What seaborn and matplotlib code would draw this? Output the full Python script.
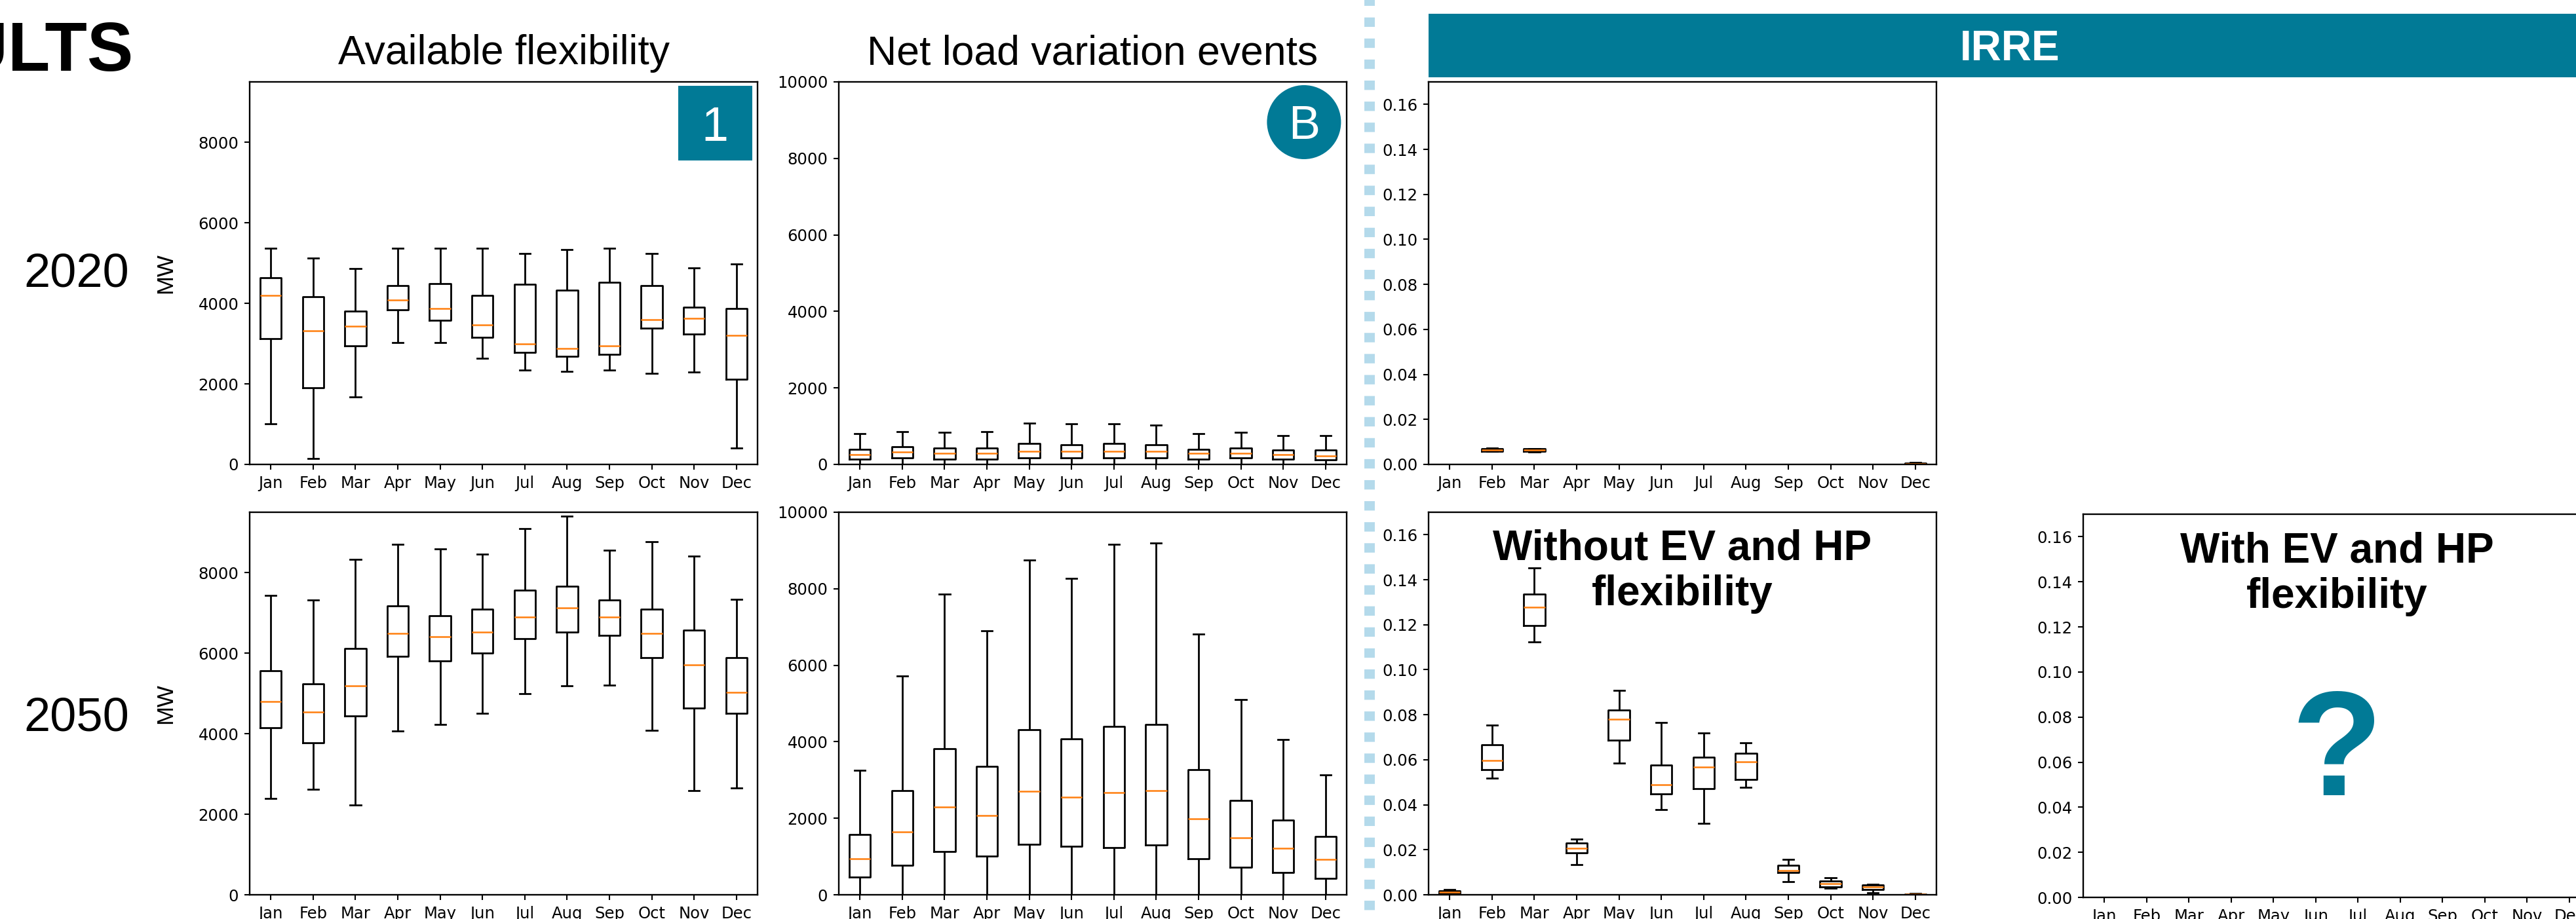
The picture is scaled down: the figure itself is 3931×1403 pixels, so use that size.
import numpy as np
import pandas as pd
import matplotlib
matplotlib.use("Agg")
import matplotlib.pyplot as plt
import seaborn as sns
from matplotlib.lines import Line2D
from matplotlib.patches import Ellipse, Rectangle

months = ["Jan", "Feb", "Mar", "Apr", "May", "Jun", "Jul", "Aug", "Sep", "Oct", "Nov", "Dec"]

# Available flexibility (MW) - whisker ends, quartiles, medians per month
flex20_min = [1009, 141, 1669, 3021, 3021, 2637, 2341, 2308, 2341, 2254, 2288, 404]
flex20_q1 = [3128, 1897, 2940, 3835, 3586, 3162, 2779, 2691, 2725, 3377, 3236, 2119]
flex20_med = [4192, 3324, 3431, 4084, 3869, 3458, 3001, 2886, 2947, 3593, 3620, 3209]
flex20_q3 = [4629, 4158, 3808, 4440, 4494, 4192, 4474, 4333, 4521, 4440, 3902, 3869]
flex20_max = [5369, 5120, 4858, 5369, 5369, 5369, 5234, 5335, 5369, 5234, 4878, 4979]

flex50_min = [2398, 2622, 2235, 4064, 4234, 4505, 4992, 5182, 5209, 4091, 2588, 2649]
flex50_q1 = [4146, 3766, 4444, 5920, 5812, 6002, 6354, 6523, 6435, 5893, 4633, 4505]
flex50_med = [4803, 4532, 5182, 6496, 6408, 6523, 6903, 7119, 6903, 6496, 5711, 5019]
flex50_q3 = [5568, 5236, 6117, 7174, 6930, 7092, 7560, 7668, 7316, 7092, 6571, 5893]
flex50_max = [7431, 7316, 8325, 8705, 8596, 8461, 9091, 9396, 8549, 8766, 8407, 7343]

# Net load variation events (MW)
net20_min = [5, 5, 5, 5, 5, 5, 5, 5, 5, 5, 5, 5]
net20_q1 = [142, 170, 142, 142, 170, 170, 170, 170, 142, 170, 142, 114]
net20_med = [263, 320, 291, 291, 348, 348, 348, 348, 291, 291, 263, 227]
net20_q3 = [398, 462, 433, 433, 547, 518, 547, 518, 398, 433, 376, 376]
net20_max = [803, 859, 831, 859, 1087, 1058, 1058, 1030, 803, 831, 746, 746]

net50_min = [5, 5, 5, 5, 5, 5, 5, 5, 5, 5, 5, 5]
net50_q1 = [463, 776, 1125, 1011, 1325, 1268, 1239, 1296, 947, 719, 577, 434]
net50_med = [947, 1638, 2301, 2073, 2700, 2557, 2671, 2728, 1987, 1496, 1211, 919]
net50_q3 = [1581, 2728, 3825, 3362, 4309, 4081, 4395, 4452, 3277, 2472, 1952, 1524]
net50_max = [3248, 5713, 7864, 6895, 8754, 8263, 9153, 9196, 6810, 5107, 4053, 3134]

# IRRE
irre20_min = [0, 0.0057, 0.0055, 0, 0, 0, 0, 0, 0, 0, 0, 0]
irre20_q1 = [0, 0.0059, 0.0057, 0, 0, 0, 0, 0, 0, 0, 0, 0.0001]
irre20_med = [0, 0.0065, 0.0063, 0, 0, 0, 0, 0, 0, 0, 0, 0.0003]
irre20_q3 = [0, 0.0071, 0.0069, 0, 0, 0, 0, 0, 0, 0, 0, 0.0005]
irre20_max = [0, 0.0073, 0.0071, 0, 0, 0, 0, 0, 0, 0, 0, 0.0008]

irre50_min = [0.0002, 0.0517, 0.1123, 0.0133, 0.0586, 0.0377, 0.0318, 0.0478, 0.0058, 0.0030, 0.0010, 0.0000]
irre50_q1 = [0.0006, 0.0556, 0.1195, 0.0185, 0.0688, 0.0449, 0.0473, 0.0512, 0.0098, 0.0036, 0.0024, 0.0001]
irre50_med = [0.0012, 0.0596, 0.1279, 0.0206, 0.0781, 0.0488, 0.0567, 0.0591, 0.0109, 0.0050, 0.0034, 0.0002]
irre50_q3 = [0.0017, 0.0668, 0.1337, 0.0230, 0.0820, 0.0576, 0.0612, 0.0630, 0.0130, 0.0062, 0.0044, 0.0004]
irre50_max = [0.0023, 0.0753, 0.1454, 0.0246, 0.0908, 0.0767, 0.0719, 0.0675, 0.0157, 0.0076, 0.0047, 0.0005]

TEAL = "#017a96"
DASH = "#b4daeb"
SLIDE_FONT = "Liberation Sans"

W, H = 3931, 1403
fig = plt.figure(figsize=(W / 100, H / 100), dpi=100)


def box_frame(lo, q1, med, q3, hi):
    # five summary values per month -> quartiles come out exactly
    rows = []
    for m, vals in zip(months, zip(lo, q1, med, q3, hi)):
        for v in vals:
            rows.append((m, v))
    return pd.DataFrame(rows, columns=["month", "value"])


def add_axes_px(l, t, r, b):
    return fig.add_axes([l / W, 1 - b / H, (r - l) / W, (b - t) / H])


def style_axes(ax, ylim):
    ax.set_ylim(*ylim)
    ax.set_xlabel("")
    ax.set_ylabel("")
    ax.tick_params(labelsize=17.5, length=6, width=1.5, pad=6)
    for sp in ax.spines.values():
        sp.set_linewidth(1.7)


def draw_box(ax, df, ylim):
    sns.boxplot(
        data=df, x="month", y="value", order=months, ax=ax,
        fill=False, color="black", width=0.5, whis=(0, 100), linewidth=2.0,
        medianprops={"color": "#ff7f0e", "linewidth": 1.8},
    )
    style_axes(ax, ylim)


# axes laid out like the slide (pixel boxes)
ax_f20 = add_axes_px(381, 125, 1156, 709)
ax_f50 = add_axes_px(381, 782, 1156, 1366)
ax_n20 = add_axes_px(1280, 125, 2055, 709)
ax_n50 = add_axes_px(1280, 782, 2055, 1366)
ax_i20 = add_axes_px(2180, 125, 2955, 709)
ax_i50 = add_axes_px(2180, 782, 2955, 1366)
ax_ev = add_axes_px(3179, 785, 3953, 1370)

draw_box(ax_f20, box_frame(flex20_min, flex20_q1, flex20_med, flex20_q3, flex20_max), (0, 9500))
draw_box(ax_f50, box_frame(flex50_min, flex50_q1, flex50_med, flex50_q3, flex50_max), (0, 9500))
draw_box(ax_n20, box_frame(net20_min, net20_q1, net20_med, net20_q3, net20_max), (0, 10000))
draw_box(ax_n50, box_frame(net50_min, net50_q1, net50_med, net50_q3, net50_max), (0, 10000))
draw_box(ax_i20, box_frame(irre20_min, irre20_q1, irre20_med, irre20_q3, irre20_max), (0, 0.17))
draw_box(ax_i50, box_frame(irre50_min, irre50_q1, irre50_med, irre50_q3, irre50_max), (0, 0.17))

# empty panel: results still to come
ax_ev.set_xticks(range(len(months)))
ax_ev.set_xticklabels(months)
ax_ev.set_xlim(-0.5, len(months) - 0.5)
style_axes(ax_ev, (0, 0.17))

# column titles
for ax, title in [(ax_f20, "Available flexibility"), (ax_n20, "Net load variation events")]:
    ax.set_title(title, fontsize=45, family=SLIDE_FONT, pad=19.4)

# MW labels
for ax in (ax_f20, ax_f50):
    ax.set_ylabel("MW", fontsize=25, family=SLIDE_FONT)
    ax.yaxis.set_label_coords(-0.144, 0.5)

# row labels and slide heading
fig.text(117 / W, 1 - 438 / H, "2020", fontsize=52, family=SLIDE_FONT, ha="center", va="baseline")
fig.text(117 / W, 1 - 1115 / H, "2050", fontsize=52, family=SLIDE_FONT, ha="center", va="baseline")
fig.text(203 / W, 1 - 108 / H, "RESULTS", fontsize=76, family=SLIDE_FONT, weight="bold",
         ha="right", va="baseline")

# badge "1"
ax_f20.add_patch(Rectangle((0.844, 0.7945), 0.1458, 0.195, transform=ax_f20.transAxes,
                           facecolor=TEAL, edgecolor="none", zorder=5))
ax_f20.text(0.9155, (709 - 215) / 584, "1", transform=ax_f20.transAxes, color="white",
            fontsize=53, family=SLIDE_FONT, ha="center", va="baseline", zorder=6)

# badge "B"
ax_n20.add_patch(Ellipse((0.916, 0.8947), 113 / 775, 113 / 584, transform=ax_n20.transAxes,
                         facecolor=TEAL, edgecolor="none", zorder=5))
ax_n20.text(0.916, (709 - 212) / 584, "B", transform=ax_n20.transAxes, color="white",
            fontsize=52, family=SLIDE_FONT, ha="center", va="baseline", zorder=6)

# IRRE header band
fig.add_artist(Rectangle((2180 / W, 1 - 118 / H), (W - 2180) / W, 97 / H,
                         transform=fig.transFigure, facecolor=TEAL, edgecolor="none"))
fig.text(3067 / W, 1 - 92 / H, "IRRE", color="white", fontsize=46, family=SLIDE_FONT,
         weight="bold", ha="center", va="baseline")

# panel captions
ax_i50.text(0.5, 0.9555, "Without EV and HP\nflexibility", transform=ax_i50.transAxes,
            fontsize=46, family=SLIDE_FONT, weight="bold", ha="center", va="top")
ax_ev.text(0.5, 0.9545, "With EV and HP\nflexibility", transform=ax_ev.transAxes,
           fontsize=46, family=SLIDE_FONT, weight="bold", ha="center", va="top")
ax_ev.text(0.5, (1370 - 1214) / 585, "?", transform=ax_ev.transAxes, color=TEAL,
           fontsize=164, family=SLIDE_FONT, weight="bold", ha="center", va="baseline")

# dashed separator between scenario columns
fig.add_artist(Line2D([2090 / W, 2090 / W], [1, 0], transform=fig.transFigure,
                      color=DASH, linewidth=11.5, linestyle=(0.34, (0.9, 1.11))))

fig.savefig("out.png", dpi=100)
